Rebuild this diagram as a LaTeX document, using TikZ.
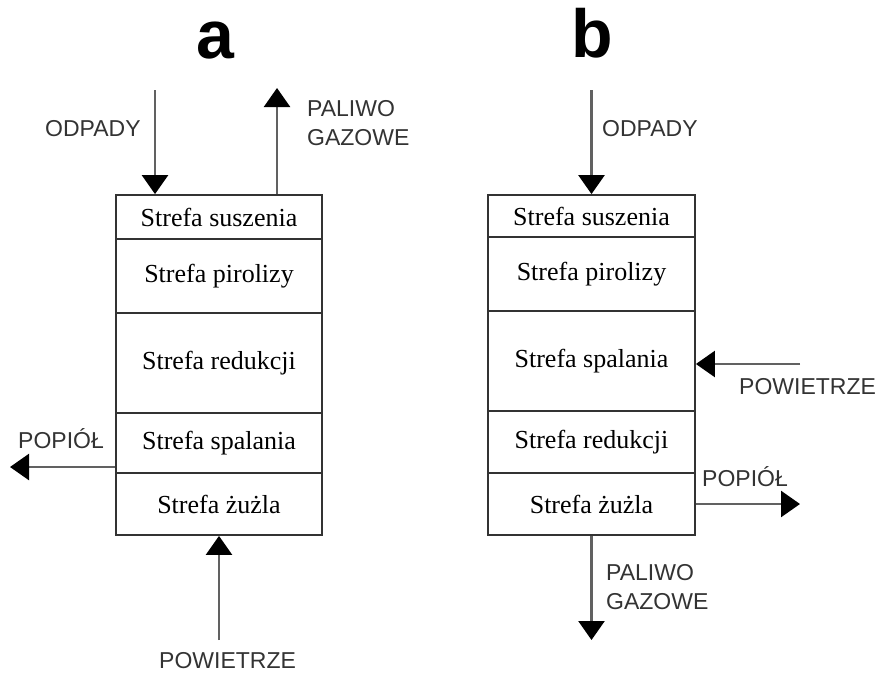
\documentclass[tikz,border=0pt]{standalone}
\usepackage{fontspec}
\setmainfont{Liberation Serif}
\newfontfamily\labfont{Liberation Sans}
\usetikzlibrary{arrows.meta,calc}
\begin{document}
\begin{tikzpicture}[x=1pt,y=-1pt,
 zone/.style={draw=black!80, line width=1.8pt, minimum width=206pt, inner sep=0pt, font=\fontsize{26}{30}\selectfont},
 flow/.style={draw=black!62, line width=2.5pt, -{Triangle[length=19pt,width=26pt,color=black]}},
 lab/.style={font=\labfont\fontsize{23}{29}\selectfont, text=black!80, inner sep=0pt},
 title/.style={font=\labfont\bfseries\fontsize{68}{76}\selectfont, inner sep=0pt, anchor=base}]
\useasboundingbox (0,0) rectangle (882,672);
\fill[white] (0,0) rectangle (882,672);
% titles
\node[title] (ta) at (215,58) {a};
\node[title] (tb) at (592,57) {b};
% column a
\node[zone, minimum height=44pt] (a1) at (219,217) {Strefa suszenia};
\node[zone, minimum height=74pt] (a2) at (219,276) {Strefa pirolizy};
\node[zone, minimum height=100pt] (a3) at (219,363) {Strefa redukcji};
\node[zone, minimum height=60pt] (a4) at (219,443) {Strefa spalania};
\node[zone, minimum height=62pt] (a5) at (219,504) {Strefa żużla};
% column b
\node[zone, minimum width=207pt, minimum height=42pt] (b1) at (591.5,216) {Strefa suszenia};
\node[zone, minimum width=207pt, minimum height=74pt] (b2) at (591.5,274) {Strefa pirolizy};
\node[zone, minimum width=207pt, minimum height=100pt] (b3) at (591.5,361) {Strefa spalania};
\node[zone, minimum width=207pt, minimum height=62pt] (b4) at (591.5,442) {Strefa redukcji};
\node[zone, minimum width=207pt, minimum height=62pt] (b5) at (591.5,504) {Strefa żużla};
% arrows a
\coordinate (oa) at (155,90);
\draw[flow] (oa) -- (oa |- a1.north);
\coordinate (ga) at (277,88);
\draw[flow] (ga |- a1.north) -- (ga);
\coordinate (pa) at (10,467);
\draw[flow] (pa -| a4.west) -- (pa);
\coordinate (wa) at (219,640);
\draw[flow] (wa) -- (a5.south);
% arrows b
\coordinate (ob) at (591.5,90);
\draw[flow] (ob) -- (b1.north);
\coordinate (wb) at (800,364);
\draw[flow] (wb) -- (wb -| b3.east);
\coordinate (pb) at (800,504);
\draw[flow] (pb -| b5.east) -- (pb);
\coordinate (gb) at (591.5,640);
\draw[flow] (b5.south) -- (gb);
% labels a
\node[lab, anchor=base west] (loa) at (45,136) {ODPADY};
\node[lab, anchor=north west, align=left] (lga) at (307,100) {PALIWO\\GAZOWE};
\node[lab, anchor=base west] (lpa) at (18,448) {POPIÓŁ};
\node[lab, anchor=base west] (lwa) at (159,668) {POWIETRZE};
% labels b
\node[lab, anchor=base west] (lob) at (602,136) {ODPADY};
\node[lab, anchor=base west] (lwb) at (739,394) {POWIETRZE};
\node[lab, anchor=base west] (lpb) at (702,486) {POPIÓŁ};
\node[lab, anchor=north west, align=left] (lgb) at (606,564) {PALIWO\\GAZOWE};
\end{tikzpicture}
\end{document}
